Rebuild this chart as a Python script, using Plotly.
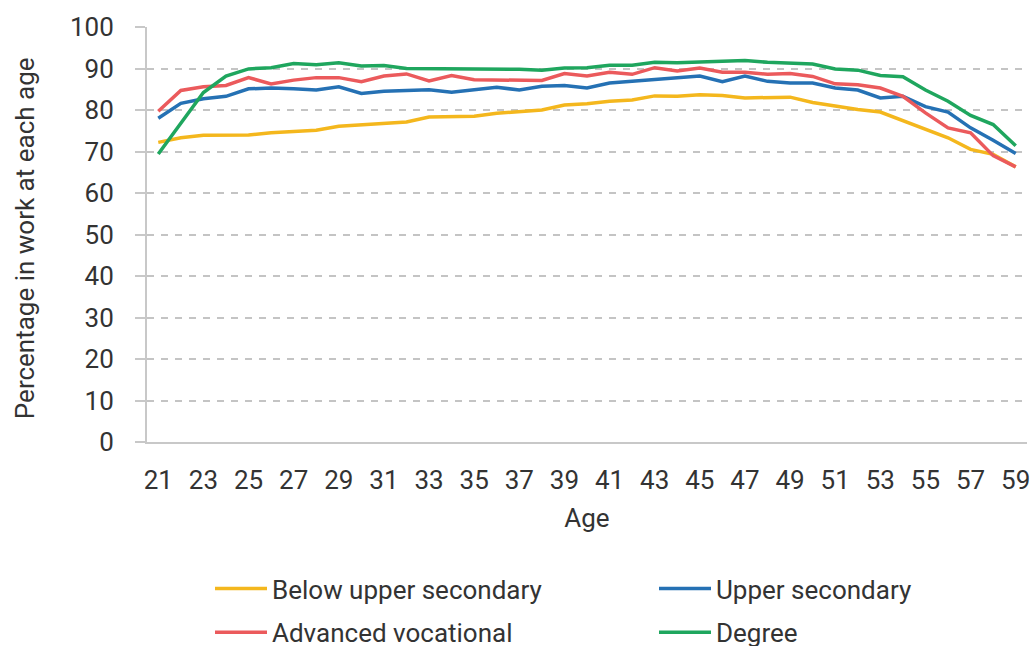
import plotly.graph_objects as go

ages = list(range(21, 60))

below_upper_secondary = [72.2, 73.3, 73.9, 74.0, 74.0, 74.5, 74.7, 75.1, 76.1, 76.4,
                         76.6, 77.1, 78.3, 78.3, 78.5, 79.2, 79.7, 80.0, 81.2, 81.5,
                         82.1, 82.4, 83.4, 83.3, 83.7, 83.5, 82.9, 82.9, 83.1, 81.8,
                         80.9, 80.1, 79.5, 77.5, 75.5, 73.3, 70.5, 69.3, 66.3]
upper_secondary = [78.0, 81.6, 82.7, 83.3, 85.1, 85.3, 85.1, 84.8, 85.6, 84.0,
                   84.5, 84.8, 84.9, 84.3, 85.0, 85.5, 84.8, 85.7, 85.9, 85.3,
                   86.5, 86.9, 87.5, 87.8, 88.2, 86.8, 88.2, 86.9, 86.5, 86.5,
                   85.3, 84.8, 82.9, 83.3, 80.8, 79.5, 75.7, 72.7, 69.5]
advanced_vocational = [79.7, 84.7, 85.6, 85.9, 87.8, 86.3, 87.2, 87.8, 87.8, 86.8,
                       88.2, 88.7, 87.0, 88.3, 87.3, 87.2, 87.2, 87.1, 88.8, 88.2,
                       89.1, 88.6, 90.2, 89.4, 90.1, 89.1, 89.1, 88.6, 88.8, 88.1,
                       86.3, 86.1, 85.3, 83.3, 79.3, 75.7, 74.5, 69.0, 66.3]
degree = [69.4, 76.7, 84.2, 88.2, 89.9, 90.2, 91.2, 90.9, 91.4, 90.6,
          90.7, 90.0, 90.0, 89.8, 89.8, 89.8, 89.8, 89.6, 90.1, 90.2,
          90.8, 90.8, 91.5, 91.4, 91.5, 91.6, 91.9, 91.5, 91.4, 91.1,
          89.9, 89.6, 88.3, 88.0, 84.8, 82.1, 78.7, 76.5, 71.4]

x_tick_vals = list(range(21, 60, 2))
x_tick_text = [str(a) for a in x_tick_vals]
y_tick_vals = list(range(0, 101, 10))

series = [
    ("Below upper secondary", below_upper_secondary, "#F4B71D", "legend", "g1"),
    ("Upper secondary", upper_secondary, "#2571B4", "legend2", "g2"),
    ("Advanced vocational", advanced_vocational, "#EB5A5C", "legend", "g3"),
    ("Degree", degree, "#1FA65E", "legend2", "g4"),
]

FONT = "Roboto, Arial, sans-serif"
TXT = "#333333"
AXC = "#C8C8C8"

fig = go.Figure()
for name, vals, color, leg, grp in series:
    fig.add_trace(go.Scatter(x=ages, y=vals, mode="lines", name=name,
                             line=dict(color=color, width=3.5),
                             legend=leg, legendgroup=grp))

LEG_TOP = 565
fig.update_layout(
    width=1032, height=646,
    margin=dict(l=147, r=5, t=27, b=204, autoexpand=False),
    plot_bgcolor="white", paper_bgcolor="white",
    font=dict(family=FONT, size=26, color=TXT),
    showlegend=True,
    legend=dict(xref="container", yref="container", x=210 / 1032, y=1 - LEG_TOP / 646,
                xanchor="left", yanchor="top", orientation="v",
                font=dict(size=26, color=TXT), tracegroupgap=7, itemwidth=52,
                bgcolor="rgba(0,0,0,0)"),
    legend2=dict(xref="container", yref="container", x=654 / 1032, y=1 - LEG_TOP / 646,
                 xanchor="left", yanchor="top", orientation="v",
                 font=dict(size=26, color=TXT), tracegroupgap=7, itemwidth=52,
                 bgcolor="rgba(0,0,0,0)"),
    xaxis=dict(
        range=[20.5, 59.5], tickmode="array", tickvals=x_tick_vals, ticktext=x_tick_text,
        ticks="outside", ticklen=14, tickcolor="rgba(0,0,0,0)",
        showline=True, linecolor=AXC, linewidth=2, showgrid=False, zeroline=False,
        tickfont=dict(size=26, color=TXT), automargin=False,
        title=dict(text="Age", font=dict(size=26, color=TXT)),
    ),
    xaxis2=dict(overlaying="x", anchor="y", side="bottom", range=[20.5, 59.5],
                tickmode="linear", tick0=20.5, dtick=1, ticks="outside", ticklen=10,
                tickcolor=AXC, tickwidth=2, showticklabels=False, showgrid=False,
                zeroline=False, showline=False, automargin=False),
    yaxis=dict(
        range=[0, 100], tickmode="array", tickvals=y_tick_vals,
        ticks="outside", ticklen=10, tickcolor=AXC, tickwidth=2,
        showline=True, linecolor=AXC, linewidth=2, zeroline=False,
        showgrid=True, gridcolor="#C4C4C4", gridwidth=2, griddash="7px,7px",
        tickfont=dict(size=26, color=TXT), automargin=False, ticklabelstandoff=16,
    ),
    annotations=[dict(text="Percentage in work at each age", textangle=-90,
                      xref="paper", yref="paper", x=-0.1386, y=0.4913,
                      xanchor="center", yanchor="middle", showarrow=False,
                      font=dict(size=26, color=TXT))],
)

fig.write_html("out.html", config={"displayModeBar": False},
               post_script="document.body.style.margin='0';")
